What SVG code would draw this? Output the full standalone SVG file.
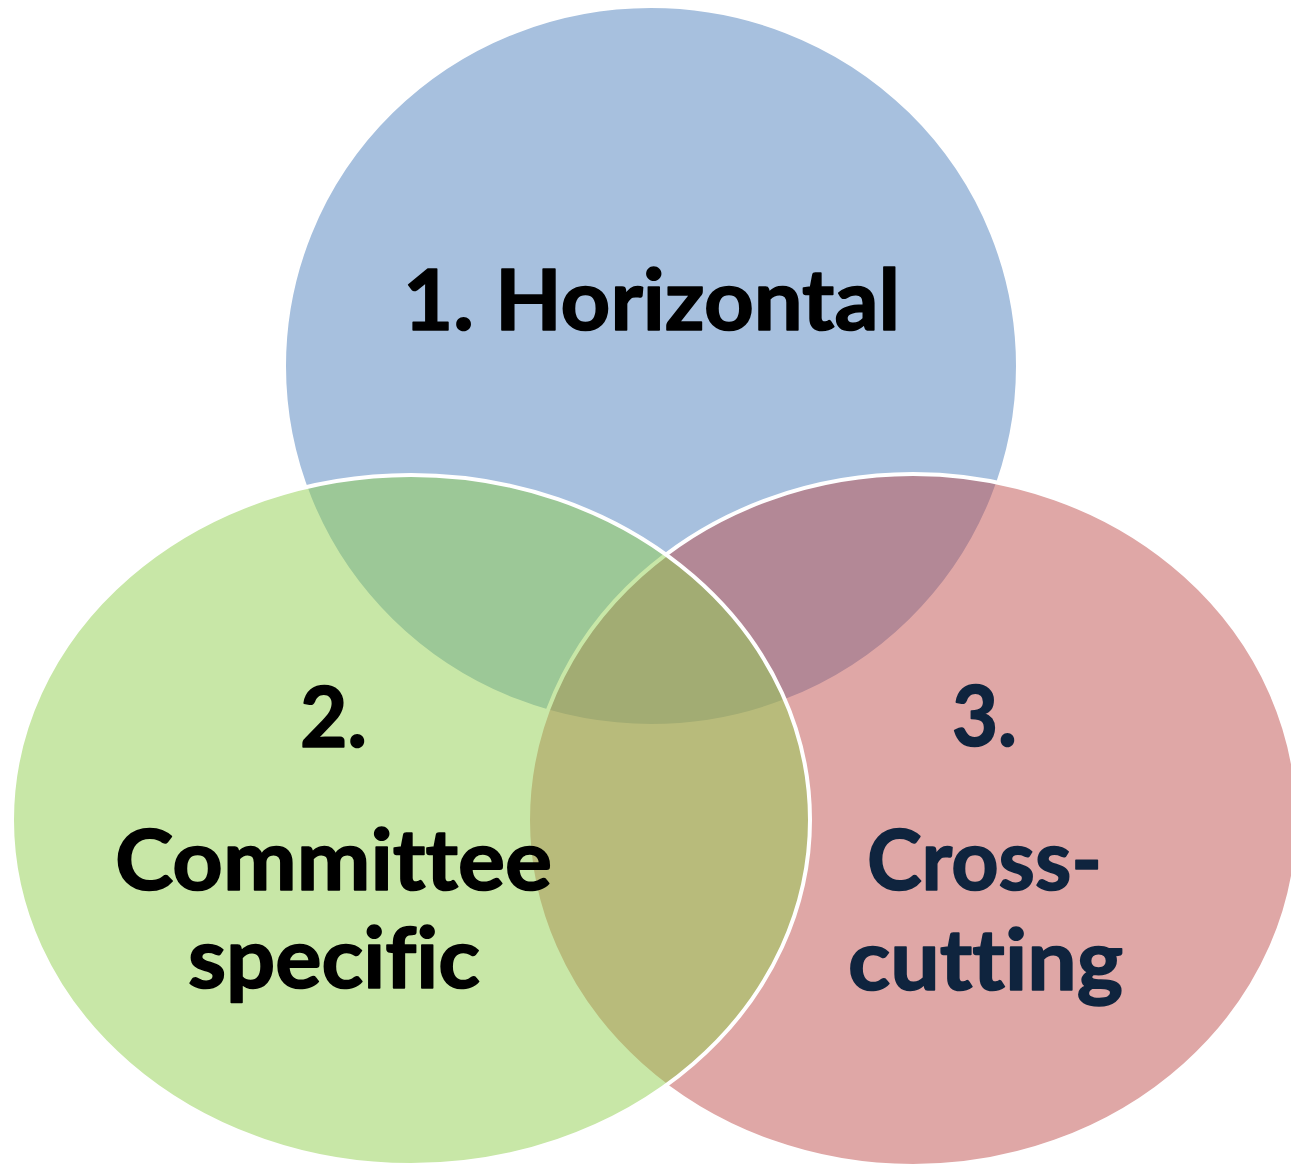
<svg xmlns="http://www.w3.org/2000/svg" width="1291" height="1164" viewBox="0 0 1291 1164">
  <style>
    .circle { stroke: #ffffff; stroke-width: 4; fill-opacity: 0.5; }
    .label { font-family: Lato, "Open Sans", "Liberation Sans", sans-serif; font-weight: bold; font-size: 84px; text-anchor: middle; font-variant-ligatures: none; font-feature-settings: "liga" 0, "clig" 0; stroke-width: 1.6; stroke-linejoin: round; }
    .dark { fill: #000000; stroke: #000000; }
    .navy { fill: #0f243e; stroke: #0f243e; }
  </style>
  <rect x="0" y="0" width="1291" height="1164" fill="#ffffff"/>
  <g id="node-horizontal">
    <ellipse class="circle" cx="651" cy="366" rx="367" ry="360" fill="#4f81bd"/>
    <text class="label dark" x="651.5" y="330" textLength="497" lengthAdjust="spacingAndGlyphs">1. Horizontal</text>
  </g>
  <g id="node-crosscutting">
    <ellipse class="circle" cx="913" cy="820" rx="385" ry="346" fill="#c0504d"/>
    <text class="label navy" x="984.5" y="746" textLength="65" lengthAdjust="spacingAndGlyphs">3.</text>
    <text class="label navy" x="984.5" y="890" textLength="235" lengthAdjust="spacingAndGlyphs">Cross-</text>
    <text class="label navy" x="985.5" y="990" textLength="275" lengthAdjust="spacingAndGlyphs">cutting</text>
  </g>
  <g id="node-committee">
    <ellipse class="circle" cx="411" cy="820" rx="399" ry="345" fill="#92d050"/>
    <text class="label dark" x="333.5" y="747" textLength="67" lengthAdjust="spacingAndGlyphs">2.</text>
    <text class="label dark" x="333.5" y="890" textLength="437" lengthAdjust="spacingAndGlyphs">Committee</text>
    <text class="label dark" x="334" y="988" textLength="292" lengthAdjust="spacingAndGlyphs">specific</text>
  </g>
  <g id="connectors"/>
</svg>
